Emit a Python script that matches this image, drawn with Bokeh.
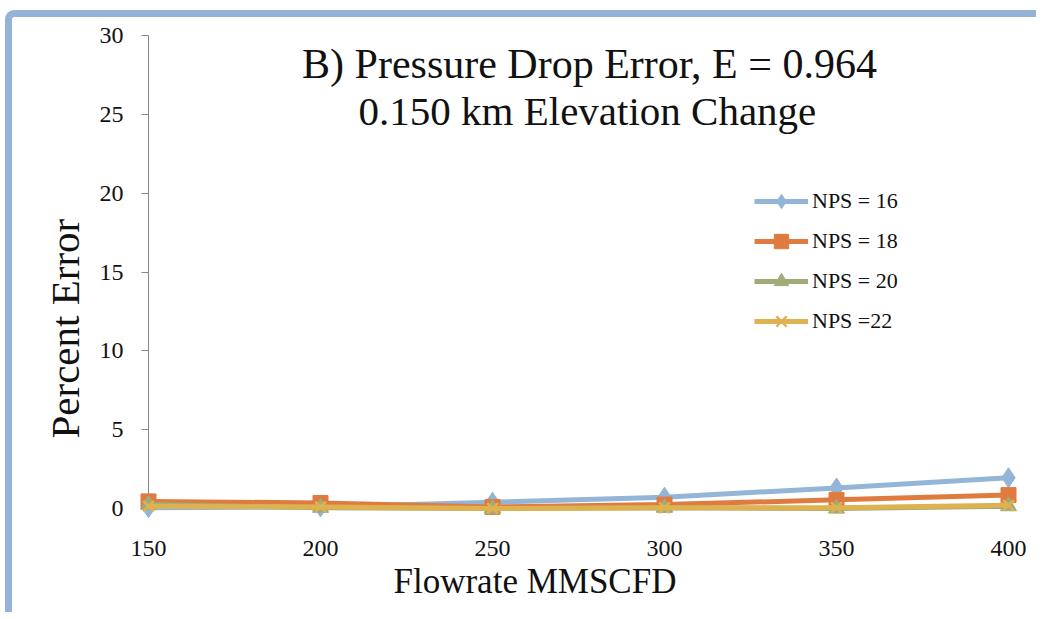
from bokeh.plotting import figure
from bokeh.models import Range1d, FixedTicker, Label, Legend, LegendItem, Title
from bokeh.embed import file_html
from bokeh.resources import INLINE

# ---- data ----
flowrate = [150, 200, 250, 300, 350, 400]
nps16 = [0.05, 0.10, 0.40, 0.72, 1.30, 1.95]
nps18 = [0.45, 0.35, 0.10, 0.25, 0.55, 0.85]
nps20 = [0.25, 0.05, 0.00, 0.05, 0.00, 0.15]
nps22 = [0.15, 0.10, 0.00, 0.05, 0.05, 0.20]
series_names = ["NPS = 16", "NPS = 18", "NPS = 20", "NPS =22"]
y_ticks = [0, 5, 10, 15, 20, 25, 30]
title_lines = ["B) Pressure Drop Error, E = 0.964", "0.150 km Elevation Change"]
x_title = "Flowrate MMSCFD"
y_title = "Percent Error"

FONT = "Liberation Serif"
colors = ["#93B5D7", "#E07B40", "#A0AC78", "#DEB250"]
markers = ["diamond", "square", "triangle", "x"]
msizes = [20, 15, 16, 15]

p = figure(width=1031, height=602,
           x_range=Range1d(flowrate[0], flowrate[-1]),
           y_range=Range1d(y_ticks[0], y_ticks[-1]),
           output_backend="svg", toolbar_location=None,
           min_border_left=136, min_border_right=35,
           min_border_top=18, min_border_bottom=111,
           outline_line_color=None, background_fill_color="white",
           border_fill_color="white")
p.margin = (10, 0, 0, 5)
p.styles = {"border-top": "7px solid #95B3D7", "border-left": "7px solid #95B3D7",
            "border-top-left-radius": "9px"}
p.grid.visible = False

ya = p.yaxis[0]
ya.ticker = FixedTicker(ticks=y_ticks)
ya.axis_line_color = "#868686"
ya.major_tick_line_color = "#868686"
ya.major_tick_out = 7
ya.major_tick_in = 0
ya.minor_tick_line_color = None
ya.major_label_text_font = FONT
ya.major_label_text_font_size = "24px"
ya.major_label_text_color = "#111111"
ya.major_label_standoff = 18

xa = p.xaxis[0]
xa.ticker = FixedTicker(ticks=flowrate)
xa.axis_line_color = "#868686"
xa.major_tick_line_color = None
xa.minor_tick_line_color = None
xa.major_label_text_font = FONT
xa.major_label_text_font_size = "24px"
xa.major_label_text_color = "#111111"
xa.major_label_standoff = 26

items = []
for name, ys, c, m, s in zip(series_names, [nps16, nps18, nps20, nps22], colors, markers, msizes):
    lr = p.line(flowrate, ys, line_color=c, line_width=5, level="overlay")
    if m == "x":
        sr = p.scatter(flowrate, ys, marker=m, size=s, line_color=c, line_width=2.5,
                       level="overlay")
    else:
        sr = p.scatter(flowrate, ys, marker=m, size=s, fill_color=c, line_color=c,
                       level="overlay")
    items.append(LegendItem(label=name, renderers=[lr, sr]))

legend = Legend(items=items, location=(606, 169), padding=0, margin=0,
                spacing=4, glyph_width=54, glyph_height=36, label_height=36,
                label_standoff=4, border_line_color=None, background_fill_alpha=0,
                label_text_font=FONT, label_text_font_size="22px",
                label_text_color="#111111")
p.add_layout(legend)

p.add_layout(Label(x=278.2, y=28.22, text=title_lines[0], text_font=FONT,
                   text_font_size="42px", text_align="center",
                   text_baseline="alphabetic", text_color="#111111"))
p.add_layout(Label(x=277.6, y=25.24, text=title_lines[1], text_font=FONT,
                   text_font_size="41px", text_align="center",
                   text_baseline="alphabetic", text_color="#111111"))

p.add_layout(Title(text=x_title, align="left", offset=245, standoff=2,
                   text_font=FONT, text_font_size="35px", text_font_style="normal",
                   text_color="#111111"), "below")
p.add_layout(Title(text=y_title, align="left", offset=70, standoff=17,
                   text_font=FONT, text_font_size="41px", text_font_style="normal",
                   text_color="#111111"), "left")

open("out.html", "w").write(file_html(p, INLINE))
